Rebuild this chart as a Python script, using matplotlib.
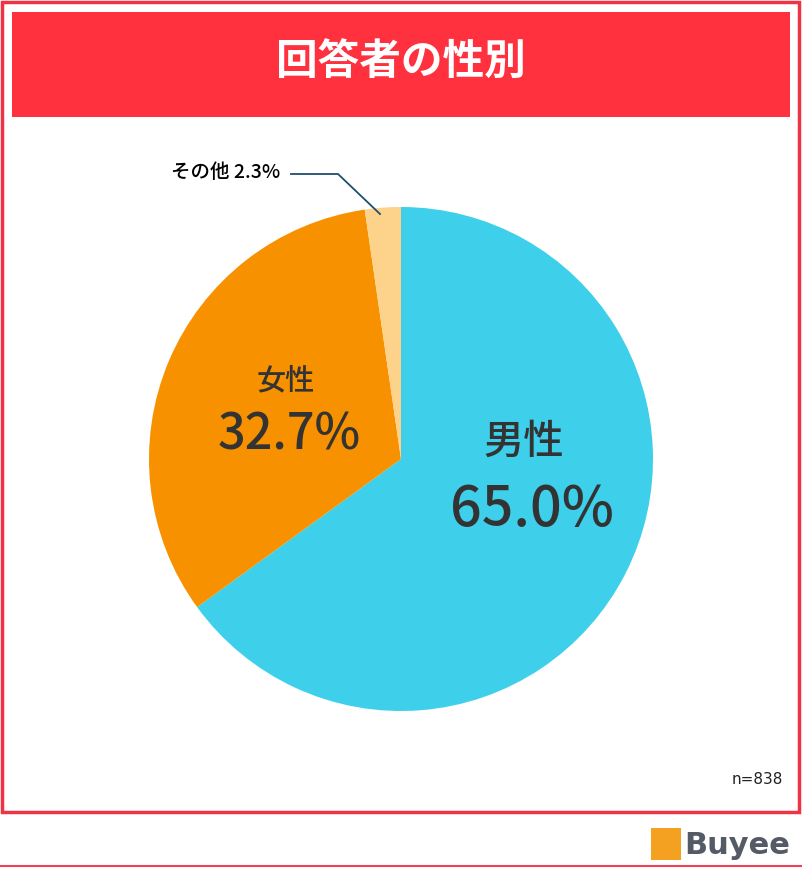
import matplotlib
matplotlib.use("Agg")
import matplotlib.pyplot as plt
from matplotlib.patches import Rectangle
from matplotlib.lines import Line2D

plt.rcParams['font.family'] = ['Noto Sans CJK JP', 'DejaVu Sans']

categories = ["男性", "女性", "その他"]
values = [65.0, 32.7, 2.3]
colors = ["#3ECFEB", "#F79100", "#FDD28A"]
title = "回答者の性別"
note = "n=838"

W, H = 803, 869
fig = plt.figure(figsize=(W/100, H/100), dpi=100)
def fx(x): return x / W
def fy(y): return 1 - y / H

fig.add_artist(Rectangle((fx(2), fy(812)), fx(799)-fx(2), fy(2)-fy(812), transform=fig.transFigure,
                         fill=False, edgecolor="#EE3344", lw=2.5))
fig.add_artist(Rectangle((fx(12), fy(117)), fx(790)-fx(12), fy(12)-fy(117), transform=fig.transFigure,
                         facecolor="#FF313F", edgecolor="none"))
fig.text(fx(401), fy(62), title, color="white", fontsize=30, fontweight="bold", ha="center", va="center")
fig.add_artist(Line2D([0, 1], [fy(866), fy(866)], transform=fig.transFigure, color="#EE4455", lw=1.5))

ax = fig.add_axes([fx(149), fy(711), fx(653)-fx(149), fy(207)-fy(711)])
ax.pie(values, colors=colors, startangle=90, counterclock=False,
       wedgeprops=dict(linewidth=0))
ax.set_xlim(-1, 1); ax.set_ylim(-1, 1)
ax.set_aspect("equal")

tc = "#333333"
fig.text(fx(524), fy(442), categories[0], fontsize=29, color=tc, ha="center", va="center", fontweight="medium")
fig.text(fx(532), fy(510), f"{values[0]:.1f}%", fontsize=40, color=tc, ha="center", va="center", fontweight="medium")
fig.text(fx(286), fy(381), categories[1], fontsize=21, color=tc, ha="center", va="center", fontweight="medium")
fig.text(fx(289), fy(436), f"{values[1]:.1f}%", fontsize=35, color=tc, ha="center", va="center", fontweight="medium")
fig.text(fx(226), fy(173), f"{categories[2]} {values[2]}%", fontsize=14, color="black", ha="center", va="center", fontweight="medium")
fig.add_artist(Line2D([fx(291), fx(338), fx(380)], [fy(174), fy(174), fy(214)],
                      transform=fig.transFigure, color="#1F4E6E", lw=1.3))

fig.text(fx(783), fy(779), note, fontsize=11, color="#222222", ha="right", va="center", family="DejaVu Sans")
fig.text(fx(684), fy(845), "Buyee", fontsize=22, color="#555B66", ha="left", va="center", family="DejaVu Sans", fontweight="bold")
fig.add_artist(Rectangle((fx(651), fy(860)), fx(30), fy(828)-fy(860), transform=fig.transFigure,
                         facecolor="#F4A020", edgecolor="none"))

fig.savefig("out.png", dpi=100)
